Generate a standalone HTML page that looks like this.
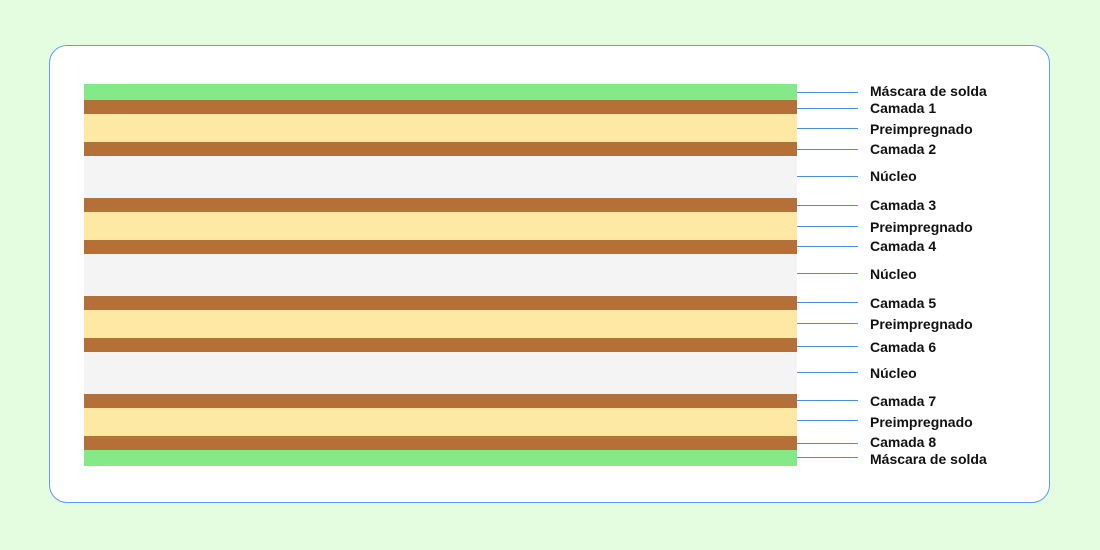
<!DOCTYPE html>
<html><head><style>
body{margin:0;width:1100px;height:550px;background:#e4fde0;position:relative;overflow:hidden;font-family:"Liberation Sans",Arial,sans-serif}
.card{position:absolute;left:49px;top:45px;width:1001px;height:458px;background:#fff;border:1px solid #5b9cf0;border-radius:18px;box-sizing:border-box}
.l{position:absolute;left:84px;width:713px}
.g{background:#84ea88}.c{background:#b47036}.p{background:#fde8a4}.n{background:#f4f4f4}
.ln{position:absolute;left:797px;width:61px;height:1px;background:#4a8fdc}
.t{position:absolute;left:870px;font-size:14px;font-weight:bold;color:#111;line-height:16px;transform:translateY(-8px)}
</style></head><body>
<div class="card"></div>
<div class="l g" style="top:84px;height:16px"></div>
<div class="l c" style="top:100px;height:14px"></div>
<div class="l p" style="top:114px;height:28px"></div>
<div class="l c" style="top:142px;height:14px"></div>
<div class="l n" style="top:156px;height:42px"></div>
<div class="l c" style="top:198px;height:14px"></div>
<div class="l p" style="top:212px;height:28px"></div>
<div class="l c" style="top:240px;height:14px"></div>
<div class="l n" style="top:254px;height:42px"></div>
<div class="l c" style="top:296px;height:14px"></div>
<div class="l p" style="top:310px;height:28px"></div>
<div class="l c" style="top:338px;height:14px"></div>
<div class="l n" style="top:352px;height:42px"></div>
<div class="l c" style="top:394px;height:14px"></div>
<div class="l p" style="top:408px;height:28px"></div>
<div class="l c" style="top:436px;height:14px"></div>
<div class="l g" style="top:450px;height:16px"></div>

<div class="ln" style="top:92px"></div><div class="t" style="top:91px">Máscara de solda</div>
<div class="ln" style="top:108px"></div><div class="t" style="top:108px">Camada 1</div>
<div class="ln" style="top:128px"></div><div class="t" style="top:129px">Preimpregnado</div>
<div class="ln" style="top:149px"></div><div class="t" style="top:149px">Camada 2</div>
<div class="ln" style="top:176px"></div><div class="t" style="top:176px">Núcleo</div>
<div class="ln" style="top:205px"></div><div class="t" style="top:205px">Camada 3</div>
<div class="ln" style="top:226px"></div><div class="t" style="top:227px">Preimpregnado</div>
<div class="ln" style="top:246px"></div><div class="t" style="top:246px">Camada 4</div>
<div class="ln" style="top:273px"></div><div class="t" style="top:274px">Núcleo</div>
<div class="ln" style="top:302px"></div><div class="t" style="top:303px">Camada 5</div>
<div class="ln" style="top:323px"></div><div class="t" style="top:324px">Preimpregnado</div>
<div class="ln" style="top:346px"></div><div class="t" style="top:347px">Camada 6</div>
<div class="ln" style="top:372px"></div><div class="t" style="top:373px">Núcleo</div>
<div class="ln" style="top:400px"></div><div class="t" style="top:401px">Camada 7</div>
<div class="ln" style="top:420px"></div><div class="t" style="top:422px">Preimpregnado</div>
<div class="ln" style="top:443px"></div><div class="t" style="top:442px">Camada 8</div>
<div class="ln" style="top:457px"></div><div class="t" style="top:459px">Máscara de solda</div>
</body></html>
